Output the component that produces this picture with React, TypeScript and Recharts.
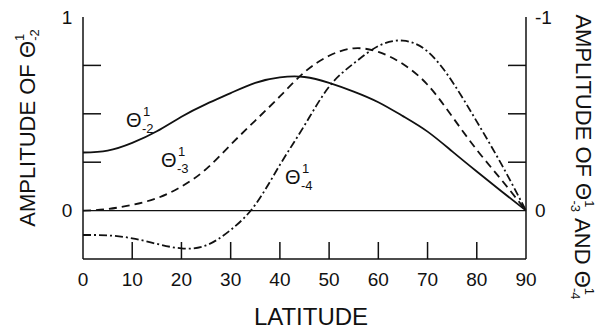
import React from "react";
import { LineChart, Line, XAxis, YAxis, ReferenceLine } from "recharts";

const latitudes = [0, 5, 10, 15, 20, 25, 30, 35, 40, 45, 50, 55, 60, 65, 70, 75, 80, 85, 90];
// left axis (Θ¹₋₂)
const theta2 = [0.3, 0.31, 0.35, 0.41, 0.485, 0.55, 0.607, 0.66, 0.688, 0.69, 0.66, 0.615, 0.56, 0.488, 0.408, 0.306, 0.202, 0.1, 0];
// right axis (reversed, -1 at top)
const theta3 = [0, -0.008, -0.03, -0.064, -0.124, -0.214, -0.34, -0.465, -0.59, -0.715, -0.8, -0.838, -0.82, -0.757, -0.65, -0.486, -0.314, -0.159, 0];
const theta4 = [0.126, 0.128, 0.143, 0.172, 0.195, 0.18, 0.1, -0.03, -0.236, -0.44, -0.64, -0.76, -0.85, -0.878, -0.822, -0.667, -0.46, -0.24, 0];

const xTicks = [0, 10, 20, 30, 40, 50, 60, 70, 80, 90];
const leftTicks = [0, 0.25, 0.5, 0.75, 1];
const leftLabels: Record<string, string> = { "0": "0", "1": "1" };
const rightTicks = [-1, -0.75, -0.5, -0.25, 0];
const rightLabels: Record<string, string> = { "-1": "-1", "0": "0" };

const data = latitudes.map((lat, i) => ({ lat, t2: theta2[i], t3: theta3[i], t4: theta4[i] }));

const FONT = "'Liberation Sans', Arial, Helvetica, sans-serif";
const INK = "#111";
const TICK_LEN = 17;

const BottomTick = (props: any) => {
  const { x, y, payload } = props;
  const v = payload.value;
  const inner = v !== 0 && v !== 90;
  return (
    <g>
      {inner && <line x1={x} x2={x} y1={y} y2={y - TICK_LEN} stroke={INK} strokeWidth={1.5} />}
      <text x={x} y={y + 20} textAnchor="middle" dominantBaseline="central" fontSize={19} fontFamily={FONT} fill={INK}>
        {v}
      </text>
    </g>
  );
};

const TopTick = (props: any) => {
  const { x, y, payload } = props;
  const v = payload.value;
  if (v === 0 || v === 90) return <g />;
  return <line x1={x} x2={x} y1={y} y2={y + TICK_LEN} stroke={INK} strokeWidth={1.5} />;
};

const LeftTick = (props: any) => {
  const { x, y, payload } = props;
  const lbl = leftLabels[String(payload.value)];
  if (lbl !== undefined) {
    return (
      <text x={x - 16} y={y} textAnchor="middle" dominantBaseline="central" fontSize={19} fontFamily={FONT} fill={INK}>
        {lbl}
      </text>
    );
  }
  return <line x1={x} x2={x + 18} y1={y} y2={y} stroke={INK} strokeWidth={1.5} />;
};

const RightTick = (props: any) => {
  const { x, y, payload } = props;
  const lbl = rightLabels[String(payload.value)];
  if (lbl !== undefined) {
    return (
      <text x={x + 9} y={y} textAnchor="start" dominantBaseline="central" fontSize={19} fontFamily={FONT} fill={INK}>
        {lbl}
      </text>
    );
  }
  return <line x1={x} x2={x - 18} y1={y} y2={y} stroke={INK} strokeWidth={1.5} />;
};

const ThetaLabel = ({ x, y, sub }: { x: number; y: number; sub: string }) => (
  <g fontFamily={FONT} fill={INK}>
    <text x={x} y={y} fontSize={20} dominantBaseline="central">Θ</text>
    <text x={x + 17} y={y - 9} fontSize={13} dominantBaseline="central">1</text>
    <text x={x + 16} y={y + 8} fontSize={13} dominantBaseline="central">{sub}</text>
  </g>
);

export default function App() {
  return (
    <div style={{ position: "absolute", left: 0, top: 0, width: 601, height: 331, background: "#fff" }}>
      <LineChart width={601} height={331} data={data} margin={{ top: 17, right: 35, bottom: 42, left: 43 }}>
        <XAxis
          dataKey="lat"
          type="number"
          domain={[0, 90]}
          ticks={xTicks}
          interval={0}
          height={30}
          tickSize={0}
          tickMargin={0}
          tickLine={false}
          axisLine={{ stroke: INK, strokeWidth: 1.5 }}
          tick={<BottomTick />}
        />
        <XAxis
          xAxisId="top"
          orientation="top"
          dataKey="lat"
          type="number"
          domain={[0, 90]}
          ticks={xTicks}
          interval={0}
          height={0}
          tickSize={0}
          tickMargin={0}
          tickLine={false}
          axisLine={{ stroke: INK, strokeWidth: 1.5 }}
          tick={<TopTick />}
        />
        <YAxis
          yAxisId="left"
          type="number"
          domain={[-0.25, 1]}
          ticks={leftTicks}
          interval={0}
          width={40}
          tickSize={0}
          tickMargin={0}
          tickLine={false}
          axisLine={{ stroke: INK, strokeWidth: 1.5 }}
          tick={<LeftTick />}
        />
        <YAxis
          yAxisId="right"
          orientation="right"
          type="number"
          domain={[-1, 0.25]}
          reversed
          ticks={rightTicks}
          interval={0}
          width={40}
          tickSize={0}
          tickMargin={0}
          tickLine={false}
          axisLine={{ stroke: INK, strokeWidth: 1.5 }}
          tick={<RightTick />}
        />
        <ReferenceLine yAxisId="left" y={0} stroke={INK} strokeWidth={1.2} />
        <Line yAxisId="left" dataKey="t2" type="natural" stroke={INK} strokeWidth={1.8} dot={false} isAnimationActive={false} />
        <Line yAxisId="right" dataKey="t3" type="natural" stroke={INK} strokeWidth={1.8} strokeDasharray="8 5" dot={false} isAnimationActive={false} />
        <Line yAxisId="right" dataKey="t4" type="natural" stroke={INK} strokeWidth={1.8} strokeDasharray="8 3 2 3" dot={false} isAnimationActive={false} />
      </LineChart>
      <svg width={601} height={331} style={{ position: "absolute", left: 0, top: 0, pointerEvents: "none" }}>
        <ThetaLabel x={126} y={120} sub="-2" />
        <ThetaLabel x={161} y={160} sub="-3" />
        <ThetaLabel x={285} y={177} sub="-4" />
        <text x={311} y={316} textAnchor="middle" dominantBaseline="central" fontSize={24} fontFamily={FONT} fill={INK}>
          LATITUDE
        </text>
        <text
          x={27}
          y={128}
          transform="rotate(-90 27 128)"
          textAnchor="middle"
          dominantBaseline="central"
          fontSize={22}
          fontFamily={FONT}
          fill={INK}
        >
          AMPLITUDE OF Θ
          <tspan fontSize={13} dy={-8}>1</tspan>
          <tspan fontSize={13} dx={-7} dy={15}>-2</tspan>
        </text>
        <text
          x={583}
          y={157}
          transform="rotate(90 583 157)"
          textAnchor="middle"
          dominantBaseline="central"
          fontSize={22}
          fontFamily={FONT}
          fill={INK}
        >
          AMPLITUDE OF Θ
          <tspan fontSize={13} dy={-7}>1</tspan>
          <tspan fontSize={13} dx={-7} dy={14}>-3</tspan>
          <tspan dy={-7}> AND Θ</tspan>
          <tspan fontSize={13} dy={-7}>1</tspan>
          <tspan fontSize={13} dx={-7} dy={14}>-4</tspan>
        </text>
      </svg>
    </div>
  );
}
